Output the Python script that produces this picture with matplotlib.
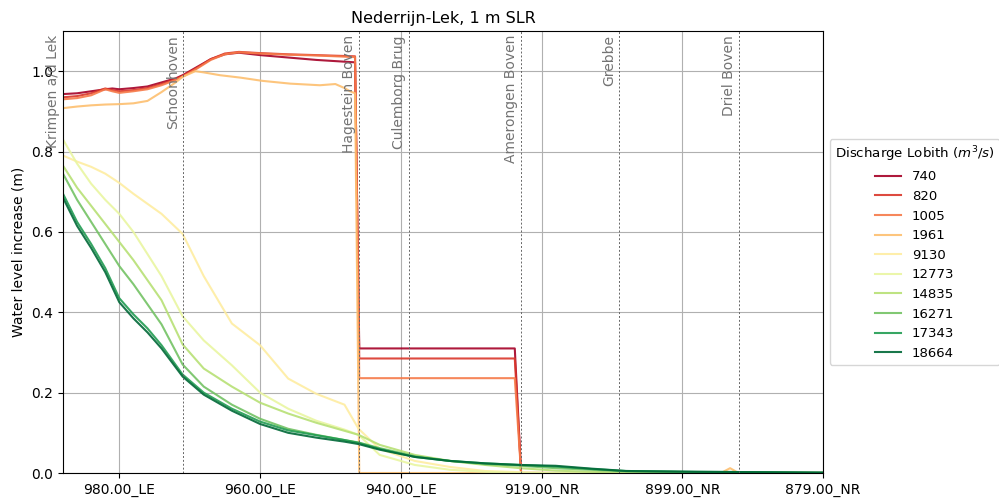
import numpy as np
import matplotlib
matplotlib.use("Agg")
import matplotlib.pyplot as plt

# position along the river (index of output location, 0 = Krimpen a/d Lek)
tick_pos = [8, 28, 48, 68, 88, 108]
tick_labels = ["980.00_LE", "960.00_LE", "940.00_LE", "919.00_NR", "899.00_NR", "879.00_NR"]

stations = ["Krimpen a/d Lek", "Schoonhoven", "Hagestein Boven", "Culemborg Brug",
            "Amerongen Boven", "Grebbe", "Driel Boven"]
station_pos = [0, 17.1, 42.1, 49.2, 65.1, 79, 96]

discharges = [740, 820, 1005, 1961, 9130, 12773, 14835, 16271, 17343, 18664]

# low discharges (weir at Hagestein closed)
red_x = [0, 2, 4, 6, 7, 8, 10, 12, 14, 16, 17, 19, 21, 23, 25, 28, 32, 36, 41.5, 42.1, 64.2, 65.1, 108]
q740 = [0.943, 0.945, 0.950, 0.955, 0.957, 0.955, 0.958, 0.962, 0.972, 0.982, 0.990, 1.010, 1.030,
        1.042, 1.046, 1.040, 1.034, 1.028, 1.022, 0.310, 0.310, 0.0, 0.0]
q820 = [0.935, 0.938, 0.945, 0.957, 0.953, 0.950, 0.953, 0.958, 0.968, 0.980, 0.988, 1.008, 1.030,
        1.044, 1.048, 1.045, 1.042, 1.040, 1.037, 0.285, 0.285, 0.0, 0.0]
q1005 = [0.930, 0.933, 0.940, 0.955, 0.950, 0.946, 0.950, 0.955, 0.965, 0.978, 0.986, 1.006, 1.028,
         1.042, 1.047, 1.044, 1.041, 1.039, 1.035, 0.236, 0.236, 0.0, 0.0]

x1961 = [0, 2, 4, 6, 8, 10, 12, 14, 16, 17, 18.8, 20, 22.3, 25.2, 28.3, 32.3, 36.5, 38.7, 40, 40.8,
         41.5, 42.1, 93.5, 94.8, 96, 108]
q1961 = [0.908, 0.912, 0.915, 0.917, 0.918, 0.920, 0.926, 0.948, 0.972, 0.986, 1.0, 0.997, 0.990,
         0.984, 0.976, 0.969, 0.965, 0.968, 0.958, 0.950, 0.945, 0.0, 0.0, 0.012, 0.0, 0.0]

# high discharges
hx = [0, 2, 4, 6, 8, 10, 12, 14, 17, 20, 24, 28, 32, 36, 40, 42, 45, 50, 55, 60, 65, 70, 75, 80, 90, 100, 108]
q9130 = [0.790, 0.775, 0.762, 0.745, 0.722, 0.695, 0.670, 0.645, 0.595, 0.490, 0.372, 0.318, 0.235,
         0.197, 0.170, 0.110, 0.060, 0.030, 0.015, 0.005, 0.002, 0, 0, 0, 0, 0, 0]
q12773 = [0.830, 0.770, 0.720, 0.680, 0.645, 0.600, 0.545, 0.490, 0.390, 0.330, 0.268, 0.200, 0.160,
          0.130, 0.108, 0.095, 0.045, 0.020, 0.008, 0.003, 0, 0, 0, 0, 0, 0, 0]
q14835 = [0.765, 0.710, 0.665, 0.620, 0.575, 0.530, 0.480, 0.430, 0.320, 0.260, 0.215, 0.175, 0.148,
          0.125, 0.105, 0.095, 0.070, 0.045, 0.030, 0.020, 0.012, 0.006, 0.003, 0.001, 0, 0, 0]
q16271 = [0.745, 0.680, 0.625, 0.570, 0.515, 0.470, 0.420, 0.370, 0.270, 0.215, 0.170, 0.135, 0.110,
          0.095, 0.082, 0.076, 0.062, 0.042, 0.030, 0.022, 0.018, 0.012, 0.008, 0.004, 0.002, 0.001, 0]
q17343 = [0.695, 0.625, 0.570, 0.510, 0.435, 0.395, 0.360, 0.318, 0.245, 0.200, 0.160, 0.128, 0.106,
          0.094, 0.082, 0.075, 0.060, 0.040, 0.030, 0.024, 0.020, 0.016, 0.010, 0.005, 0.003, 0.002, 0.001]
q18664 = [0.685, 0.615, 0.560, 0.500, 0.425, 0.385, 0.350, 0.310, 0.240, 0.195, 0.155, 0.122, 0.100,
          0.088, 0.078, 0.072, 0.058, 0.040, 0.030, 0.024, 0.020, 0.018, 0.011, 0.005, 0.003, 0.002, 0.001]

series = [(red_x, q740), (red_x, q820), (red_x, q1005), (x1961, q1961),
          (hx, q9130), (hx, q12773), (hx, q14835), (hx, q16271), (hx, q17343), (hx, q18664)]

colors = plt.cm.RdYlGn(np.linspace(0, 1, len(discharges)))

fig = plt.figure(figsize=(9.99, 4.98), dpi=100)
ax = fig.add_axes([63 / 999, 25 / 498, 760 / 999, 442 / 498])

for (x, y), q, c in zip(series, discharges, colors):
    ax.plot(x, y, color=c, lw=1.5, alpha=0.9, label=str(q))

for name, pos in zip(stations, station_pos):
    ax.axvline(pos, color='0.4', lw=0.7, ls=(0, (2, 2)))
    ax.text(pos - 0.4, 1.09, name, rotation=90, ha='right', va='top',
            color='0.45', fontsize=10)

ax.set_xlim(0, 108)
ax.set_ylim(0, 1.1)
ax.set_xticks(tick_pos)
ax.set_xticklabels(tick_labels)
ax.set_yticks([0.0, 0.2, 0.4, 0.6, 0.8, 1.0])
ax.grid(True)
ax.set_ylabel("Water level increase (m)")
ax.set_title("Nederrijn-Lek, 1 m SLR", fontsize=11.5)
ax.legend(title="Discharge Lobith ($m^3/s$)", loc='center left', bbox_to_anchor=(1, 0.5),
          fontsize=9.5, title_fontsize=9.6)

fig.savefig("out.png", dpi=100)
